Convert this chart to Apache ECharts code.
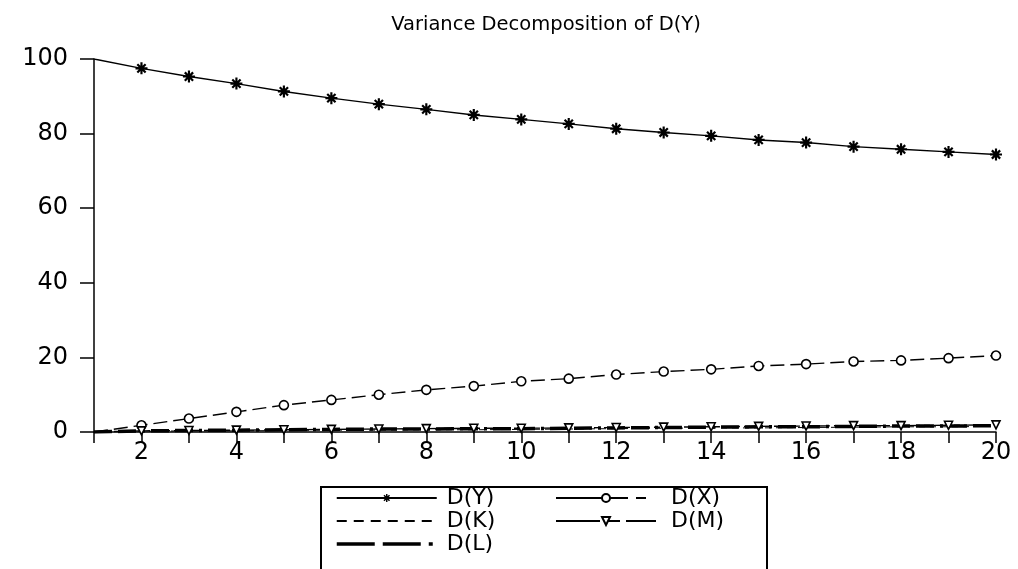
<!DOCTYPE html>
<html><head><meta charset="utf-8">
<script src="https://cdn.jsdelivr.net/npm/echarts@6/dist/echarts.min.js"></script>
<style>html,body{margin:0;padding:0;background:#fff}#c{width:1018px;height:569px}</style>
</head><body><div id="c"></div>
<script>
const periods = ['1','2','3','4','5','6','7','8','9','10','11','12','13','14','15','16','17','18','19','20'];
const dY = [100,97.5,95.3,93.4,91.3,89.5,87.9,86.5,85.0,83.8,82.6,81.3,80.3,79.4,78.3,77.6,76.5,75.8,75.1,74.4];
const dX = [0,1.8,3.6,5.4,7.2,8.6,10.0,11.3,12.3,13.6,14.3,15.4,16.2,16.8,17.7,18.2,18.9,19.2,19.8,20.5];
const dK = [0,0.2,0.3,0.3,0.4,0.5,0.5,0.6,0.6,0.7,0.8,0.9,1.0,1.1,1.1,1.2,1.3,1.4,1.4,1.5];
const dM = [0,0.3,0.4,0.5,0.6,0.7,0.8,0.9,1.0,1.0,1.1,1.2,1.3,1.4,1.5,1.6,1.7,1.7,1.8,1.9];
const dL = [0,0.3,0.4,0.5,0.6,0.7,0.8,0.8,0.9,0.9,1.0,1.1,1.2,1.3,1.4,1.4,1.5,1.6,1.6,1.7];
const titleText = 'Variance Decomposition of D(Y)';

const FONT = '"DejaVu Sans", sans-serif';
const star = 'path://M4.1,0 L5.9,0 L5.9,10 L4.1,10 Z M0,4.1 L10,4.1 L10,5.9 L0,5.9 Z M2.2,0.9 L9.1,7.8 L7.8,9.1 L0.9,2.2 Z M9.1,2.2 L2.2,9.1 L0.9,7.8 L7.8,0.9 Z';
const hollow = {color:'#fff', borderColor:'#000', borderWidth:1.6};
const noMark = {color:'rgba(0,0,0,0)', borderWidth:0};
// the first period carries no marker in the reference
function firstBare(arr){ return arr.map(function(v,i){ return i===0 ? {value:v, symbol:'none'} : v; }); }

const legendText = {fontSize:22, lineHeight:22, color:'#000', fontFamily:FONT};
const chart = echarts.init(document.getElementById('c'));
chart.setOption({
  animation:false,
  color:['#000'],
  textStyle:{fontFamily:FONT, color:'#000'},
  title:{text:titleText, left:541, textAlign:'center', top:10,
    textStyle:{fontFamily:FONT, fontSize:19.5, fontWeight:'normal', color:'#000'}},
  grid:{left:94, right:22, top:59, bottom:137},
  xAxis:{type:'category', data:periods, boundaryGap:false,
    axisLine:{lineStyle:{color:'#000', width:1.5}},
    axisTick:{interval:0, length:11, lineStyle:{color:'#000', width:1.5}},
    axisLabel:{interval:function(i){return i%2===1;}, fontSize:24, color:'#000', fontFamily:FONT, margin:9},
    splitLine:{show:false}},
  yAxis:{type:'value', min:0, max:100, interval:20,
    axisLine:{show:true, lineStyle:{color:'#000', width:1.5}},
    axisTick:{show:true, length:14, lineStyle:{color:'#000', width:1.5}},
    axisLabel:{fontSize:24, color:'#000', fontFamily:FONT, margin:26},
    splitLine:{show:false}},
  legend:[
    {orient:'vertical', left:335, top:487, padding:0, itemWidth:100, itemHeight:10, itemGap:1,
     data:['D(Y)',
           {name:'D(K)', lineStyle:{type:[10,7]}},
           {name:'D(L)', lineStyle:{width:3.5, type:[38,8,38,8,4,8]}}],
     textStyle:Object.assign({padding:[0,0,0,5]}, legendText)},
    {orient:'vertical', left:555, top:487, padding:0, itemWidth:100, itemHeight:10, itemGap:1,
     data:[{name:'D(X)', lineStyle:{type:[72,8,10,10]}},
           {name:'D(M)', lineStyle:{type:[44,6,14,6]}}],
     textStyle:Object.assign({padding:[0,0,0,10]}, legendText)}
  ],
  graphic:[{type:'rect', shape:{x:321, y:487, width:446, height:100},
    style:{fill:'none', stroke:'#000', lineWidth:2}, z:100}],
  series:[
    {name:'D(Y)', type:'line', data:firstBare(dY), symbol:star, symbolSize:12, showAllSymbol:true,
     lineStyle:{color:'#000', width:1.4}, itemStyle:{color:'#000'}, z:5},
    {name:'D(X)', type:'line', data:firstBare(dX), symbol:'circle', symbolSize:9, showAllSymbol:true,
     lineStyle:{color:'#000', width:1.4, type:[14,6]}, itemStyle:hollow, z:4},
    {name:'D(K)', type:'line', data:dK, symbol:'circle', showSymbol:false,
     lineStyle:{color:'#000', width:1, type:[6,5]}, itemStyle:noMark, z:3},
    {name:'D(M)', type:'line', data:firstBare(dM), symbol:'triangle', symbolRotate:180, symbolSize:8, showAllSymbol:true,
     lineStyle:{color:'#000', width:1.4, type:[16,4,6,4]}, itemStyle:hollow, z:4},
    {name:'D(L)', type:'line', data:dL, symbol:'circle', showSymbol:false,
     lineStyle:{color:'#000', width:3.5, type:[18,6,18,6,3,6]}, itemStyle:noMark, z:3}
  ]
});
</script></body></html>
